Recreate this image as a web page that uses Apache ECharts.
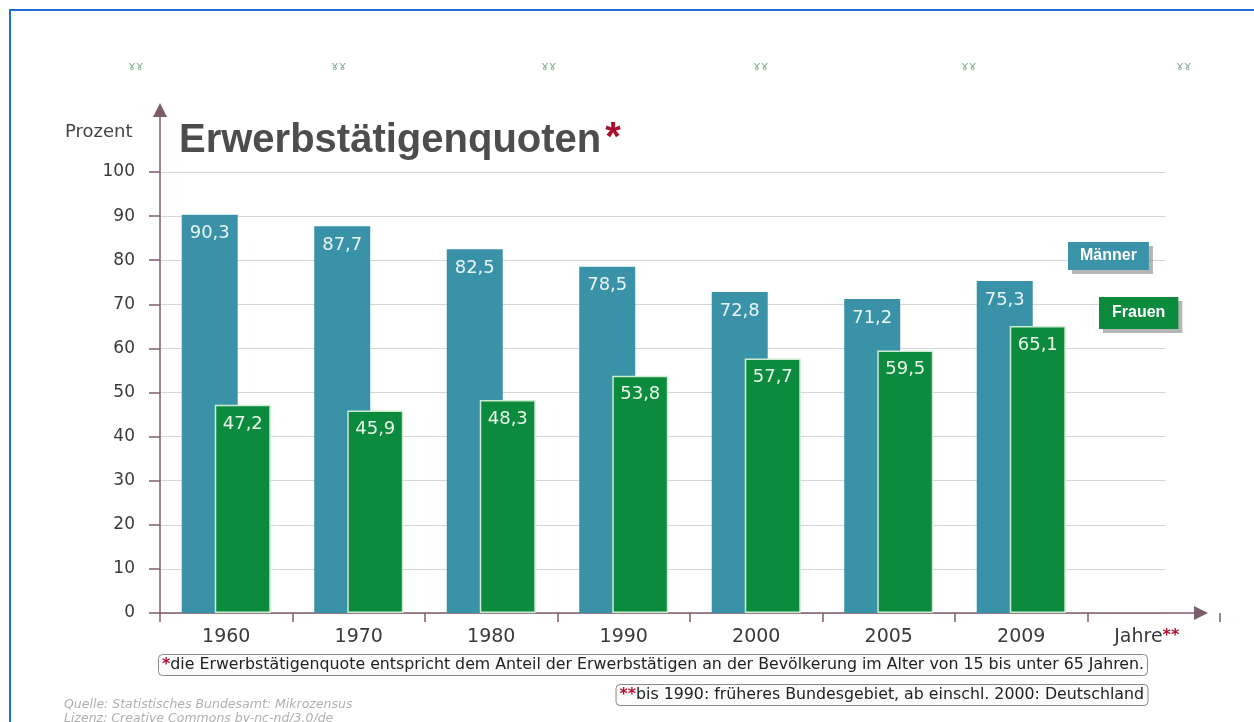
<!DOCTYPE html>
<html>
<head>
<meta charset="utf-8">
<script src="https://cdn.jsdelivr.net/npm/echarts@6/dist/echarts.min.js"></script>
<style>
html, body { margin: 0; padding: 0; background: #fff; }
#chart { width: 1254px; height: 722px; }
</style>
</head>
<body>
<div id="chart"></div>
<script>
// Werte in Prozent
var jahre = ['1960', '1970', '1980', '1990', '2000', '2005', '2009', 'Jahre'];
var maenner = [90.3, 87.7, 82.5, 78.5, 72.8, 71.2, 75.3, null];
var frauen = [47.2, 45.9, 48.3, 53.8, 57.7, 59.5, 65.1, null];
var yMin = 0, yMax = 100, yStep = 10;

var fontNum = '"DejaVu Sans", Verdana, sans-serif';
var axisCol = '#7d5e6c';

function komma(p) {
    return p.value.toFixed(1).replace('.', ',');
}

var chart = echarts.init(document.getElementById('chart'));

var option = {
    backgroundColor: '#ffffff',
    animation: false,
    title: [{
        text: 'Erwerbstätigenquoten{s|*}',
        left: 174,
        top: 114,
        textStyle: {
            fontFamily: '"Liberation Sans", Arial, sans-serif',
            fontWeight: 'bold',
            fontSize: 40,
            color: '#4d4d4f',
            rich: {
                s: { fontSize: 40, fontWeight: 'bold', color: '#a8102c', fontFamily: '"Liberation Sans", sans-serif', padding: [0, 0, 4, 4] }
            }
        }
    }, {
        text: 'Prozent',
        left: 60,
        top: 118,
        textStyle: { fontFamily: fontNum, fontWeight: 'normal', fontSize: 18, color: '#444' }
    }, {
        text: '{r|*}die Erwerbstätigenquote entspricht dem Anteil der Erwerbstätigen an der Bevölkerung im Alter von 15 bis unter 65 Jahren.',
        left: 158,
        top: 654,
        padding: [3, 4, 3, 4],
        backgroundColor: '#fbfbfb',
        borderColor: '#8a8a8a',
        borderWidth: 1,
        borderRadius: 4,
        textStyle: {
            fontFamily: fontNum, fontWeight: 'normal', fontSize: 15.8, color: '#222',
            rich: { r: { color: '#b01030', fontSize: 15.8, fontWeight: 'bold' } }
        }
    }, {
        text: '{r|**}bis 1990: früheres Bundesgebiet, ab einschl. 2000: Deutschland',
        right: 106,
        top: 684,
        padding: [3, 4, 3, 4],
        backgroundColor: '#fbfbfb',
        borderColor: '#8a8a8a',
        borderWidth: 1,
        borderRadius: 4,
        textStyle: {
            fontFamily: fontNum, fontWeight: 'normal', fontSize: 15.8, color: '#222',
            rich: { r: { color: '#b01030', fontSize: 15.8, fontWeight: 'bold' } }
        }
    }, {
        text: 'Quelle: Statistisches Bundesamt: Mikrozensus\nLizenz: Creative Commons by-nc-nd/3.0/de',
        left: 64,
        top: 698,
        padding: 0,
        textStyle: {
            fontFamily: fontNum, fontStyle: 'italic', fontWeight: 'normal',
            fontSize: 12.5, lineHeight: 14, color: '#b0b0b0'
        }
    }],
    legend: [{
        data: ['Männer'],
        left: 1058,
        top: 237,
        icon: 'none',
        itemWidth: 0,
        selectedMode: false,
        textStyle: {
            fontFamily: '"Liberation Sans", Arial, sans-serif', fontWeight: 'bold', fontSize: 16,
            color: '#ffffff', backgroundColor: '#3b93a9', padding: [6, 12],
            shadowColor: 'rgba(120,120,120,0.55)', shadowOffsetX: 4, shadowOffsetY: 4
        }
    }, {
        data: ['Frauen'],
        left: 1089,
        top: 292,
        icon: 'none',
        itemWidth: 0,
        selectedMode: false,
        textStyle: {
            fontFamily: '"Liberation Sans", Arial, sans-serif', fontWeight: 'bold', fontSize: 16,
            color: '#ffffff', backgroundColor: '#0c8a3d', padding: [8, 13],
            shadowColor: 'rgba(120,120,120,0.55)', shadowOffsetX: 4, shadowOffsetY: 4
        }
    }],
    grid: [
        // Balken
        { left: 160, right: 34, top: 172, bottom: 109, outerBoundsMode: 'none' },
        // Gitterlinien
        { left: 160, right: 89, top: 172, bottom: 109, outerBoundsMode: 'none' },
        // Achsenpfeile
        { left: 160, right: 53, top: 110, bottom: 109, outerBoundsMode: 'none' }
    ],
    xAxis: [{
        gridIndex: 0,
        type: 'category',
        data: jahre,
        axisLine: { show: false },
        axisTick: { show: true, interval: 0, length: 9, lineStyle: { color: axisCol, width: 1.5 } },
        axisLabel: {
            interval: 0,
            hideOverlap: false,
            margin: 15,
            fontFamily: fontNum, fontSize: 19, color: '#3a3a3a',
            formatter: function(v) {
                return v == 'Jahre' ? 'Jahre{r|**}' : v;
            },
            rich: { r: { color: '#b01030', fontSize: 16, lineHeight: 16, fontFamily: fontNum, fontWeight: 'bold', verticalAlign: 'top', padding: [0, 14, 0, 0] } }
        },
        splitLine: { show: false }
    }, {
        gridIndex: 1,
        type: 'value',
        min: 0, max: 1,
        show: false
    }, {
        gridIndex: 2,
        type: 'value',
        min: 0, max: 1,
        axisLine: { show: true, symbol: ['none', 'triangle'], symbolSize: [14, 14], lineStyle: { color: axisCol, width: 1.5 } },
        axisTick: { show: false },
        axisLabel: { show: false },
        splitLine: { show: false }
    }],
    yAxis: [{
        gridIndex: 0,
        type: 'value',
        min: yMin, max: yMax, interval: yStep,
        axisLine: { show: false },
        axisTick: { show: true, length: 11, lineStyle: { color: axisCol, width: 1.5 } },
        axisLabel: { margin: 25, fontFamily: fontNum, fontSize: 17, color: '#3a3a3a' },
        splitLine: { show: false }
    }, {
        gridIndex: 1,
        type: 'value',
        min: yMin, max: yMax, interval: yStep,
        axisLine: { show: false },
        axisTick: { show: false },
        axisLabel: { show: false },
        splitLine: { show: true, lineStyle: { color: '#d6d6d6', width: 1 } }
    }, {
        gridIndex: 2,
        type: 'value',
        min: 0, max: 1,
        axisLine: { show: true, symbol: ['none', 'triangle'], symbolSize: [14, 14], lineStyle: { color: axisCol, width: 1.5 } },
        axisTick: { show: false },
        axisLabel: { show: false },
        splitLine: { show: false }
    }],
    series: [{
        name: 'Männer',
        type: 'bar',
        xAxisIndex: 0,
        yAxisIndex: 0,
        data: maenner,
        barWidth: 56,
        barGap: '-41%',
        itemStyle: { color: '#3a92a8' },
        label: {
            show: true,
            position: 'insideTop',
            distance: 10,
            formatter: komma,
            fontFamily: fontNum, fontSize: 18, color: '#e9f5f7'
        }
    }, {
        name: 'Frauen',
        type: 'bar',
        xAxisIndex: 0,
        yAxisIndex: 0,
        data: frauen,
        barWidth: 56,
        itemStyle: { color: '#0c8a3d', borderColor: '#cdebd2', borderWidth: 1.5 },
        label: {
            show: true,
            position: 'insideTop',
            distance: 10,
            formatter: komma,
            fontFamily: fontNum, fontSize: 18, color: '#e9f6ea'
        }
    }],
    graphic: [{
        type: 'rect',
        z: -10,
        shape: { x: 10, y: 10, width: 1400, height: 900 },
        style: { fill: 'none', stroke: '#1f6fd0', lineWidth: 2 }
    }]
};

// kleine Zierzeichen oben
var zier = [137, 340, 550, 762, 970, 1185];
for (var i = 0; i < zier.length; i++) {
    option.graphic.push({
        type: 'text',
        x: zier[i] - 9,
        y: 60,
        style: { text: 'ɤɤ', fill: '#8fb39b', font: '13px "DejaVu Sans"' }
    });
}

chart.setOption(option);
</script>
</body>
</html>
